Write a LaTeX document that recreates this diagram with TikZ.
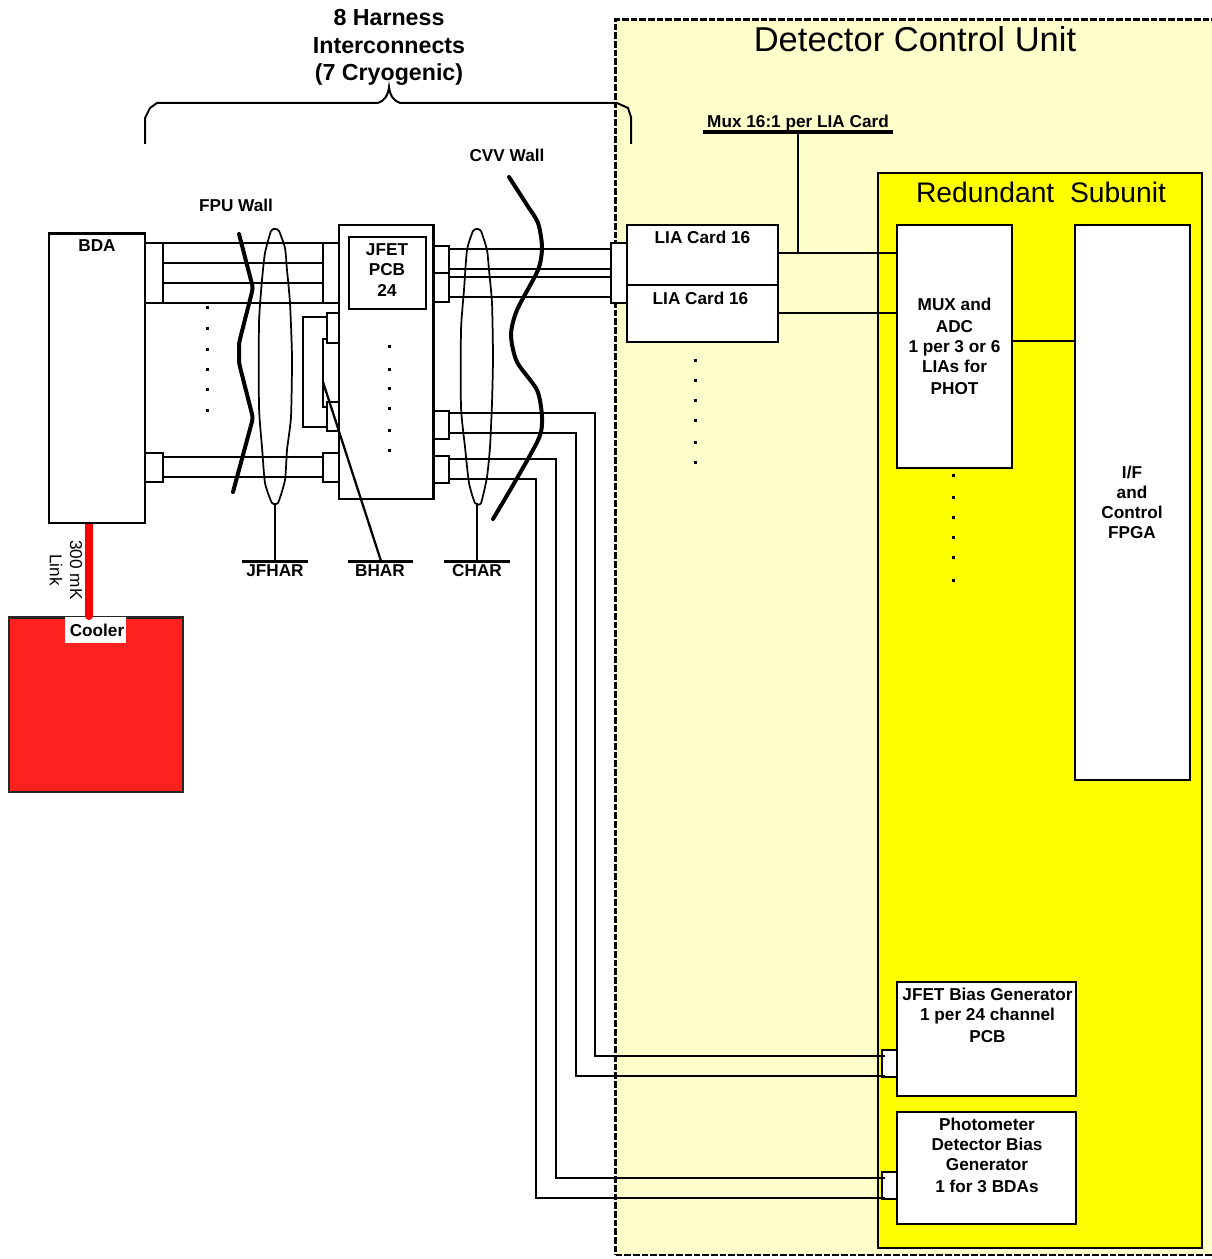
\documentclass[tikz,border=0pt]{standalone}
\usepackage{fontspec}
\setmainfont{Liberation Sans}
\definecolor{dcufill}{HTML}{FFFFCC}
\definecolor{subfill}{HTML}{FFFF00}
\definecolor{coolred}{HTML}{FF2020}
\definecolor{linkred}{HTML}{FF0000}
\tikzset{
  box/.style={draw=black,line width=1.6pt,fill=white,inner sep=0pt,outer sep=0pt},
  wire/.style={draw=black,line width=1.5pt},
  heavy/.style={draw=black,line width=2.6pt},
  wall/.style={draw=black,line width=3pt,line join=round,line cap=round},
  harness/.style={draw=black,line width=1.3pt,smooth cycle,tension=0.35},
  lab/.style={font=\fontsize{12.9}{15}\selectfont\bfseries,align=center,inner sep=0pt,outer sep=0pt},
  plainlab/.style={font=\fontsize{12.9}{15}\selectfont,align=center,inner sep=0pt,outer sep=0pt},
  biglab/.style={font=\fontsize{17.4}{20.7}\selectfont\bfseries,align=center,inner sep=0pt},
  tdot/.style={fill=black}
}
\newcommand\bx[6]{%
  \pgfmathsetmacro\bxw{(#4-#2)*0.75}\pgfmathsetmacro\bxh{(#5-#3)*0.75}%
  \node[box,minimum width=\bxw pt,minimum height=\bxh pt,#6] (#1) at ({(#2+#4)/2},{(#3+#5)/2}) {};}
\newcommand\dotcol[7]{\foreach \dy in {#2,#3,#4,#5,#6,#7}{\fill[tdot] (#1-1.5,\dy-1.5) rectangle (#1+1.5,\dy+1.5);}}
\begin{document}
\begin{tikzpicture}[x=0.75pt,y=-0.75pt]
\useasboundingbox (0,0) rectangle (1212,1259);
% enclosures
\bx{dcu}{615.5}{19.5}{1222}{1255}{fill=dcufill,dash pattern=on 5pt off 1.5pt,line width=1.55pt}
\bx{sub}{878}{173}{1202}{1248}{fill=subfill,line width=1.6pt}
\node[font=\fontsize{25.9}{28}\selectfont,inner sep=0pt] (dcutitle) at (915,39.5) {Detector Control Unit};
\node[font=\fontsize{21.2}{24}\selectfont,inner sep=0pt] (subtitle) at (1041,192) {Redundant\ \ Subunit};
% brace
\node[biglab] (harnesslab) at (389,47.5) {8 Harness\\Interconnects\\(7 Cryogenic)};
\coordinate (braceL) at (145,144);
\coordinate (braceR) at (631,144);
\draw[wire] (braceL) -- (145,118) -- (150,108) -- (157,103) -- (378,103) .. controls (384,101) and (388,96) .. (389,87) .. controls (390,96) and (394,101) .. (400,103) -- (617,103) -- (628,108) -- (631,117) -- (braceR);
% cooler and link
\bx{cooler}{9}{617.5}{183}{792}{fill=coolred,draw=black!85,line width=1.8pt}
\node[fill=white,minimum width=45.75pt,minimum height=19.5pt,inner sep=0pt] (coolbg) at (95.5,630) {};
\node[lab] (coollab) at (97,630) {Cooler};
\coordinate (linktop) at (89,525);
\coordinate (linkbot) at (89,616);
\draw[line width=6pt,draw=linkred,line cap=round] (linktop) -- (linkbot);
\node[plainlab,rotate=-90] (l300) at (76,570) {300\ mK};
\node[plainlab,rotate=-90] (llink) at (56,570) {Link};
% main boxes
\bx{bda}{49}{233.5}{145}{523}{}
\bx{pcb}{339}{225}{433.5}{499}{}
\bx{pcbin}{349}{237}{426}{309}{}
\bx{lia1}{627}{225}{778}{285}{}
\bx{lia2}{627}{285}{778}{342}{}
\bx{mux}{897}{225}{1012}{468}{}
\bx{fpga}{1075}{225}{1190}{780}{}
\bx{jbg}{897}{982}{1076}{1096}{}
\bx{pdb}{897}{1112}{1076}{1224}{}
% connectors blocks
\bx{cL1}{145}{243}{163}{303}{}
\bx{cR1}{323}{243}{339}{303}{}
\bx{cL2}{145}{453}{163}{482}{}
\bx{cR2}{323}{453}{339}{482}{}
\bx{sm1}{327}{313}{339}{343}{}
\bx{sm2}{327}{402}{339}{431}{}
\bx{p1}{433.5}{246}{449}{273}{}
\bx{p2}{433.5}{273}{449}{302}{}
\bx{p3}{433.5}{411}{449}{439}{}
\bx{p4}{433.5}{456}{449}{483}{}
\bx{liac}{611}{243}{627}{303}{}
\bx{jc}{882}{1050}{897}{1077}{}
\bx{pc}{882}{1172}{897}{1199}{}
% harness lines BDA to PCB
\draw[wire] (cL1.east |- 0,263) -- (cR1.west |- 0,263);
\draw[wire] (cL1.east |- 0,283) -- (cR1.west |- 0,283);
\draw[wire] (cL1.east |- 0,243) -- (cR1.west |- 0,243);
\draw[wire] (cL1.east |- 0,303) -- (cR1.west |- 0,303);
\draw[wire] (cL2.east |- 0,457) -- (cR2.west |- 0,457);
\draw[wire] (cL2.east |- 0,477) -- (cR2.west |- 0,477);
% loop
\draw[wire] (sm1.west |- 0,317) -- (303,317) -- (303,427) -- (sm2.west |- 0,427);
\draw[wire] (sm1.west |- 0,339) -- (323,339) -- (323,407) -- (sm2.west |- 0,407);
% PCB to LIA
\draw[wire] (p1.east |- 0,249) -- (liac.west |- 0,249);
\draw[wire] (p1.east |- 0,269) -- (liac.west |- 0,269);
\draw[wire] (p2.east |- 0,277) -- (liac.west |- 0,277);
\draw[wire] (p2.east |- 0,297) -- (liac.west |- 0,297);
% PCB to bias generators
\draw[wire] (p3.east |- 0,413) -- (595,413) -- (595,1055.5) -- (jc.west |- 0,1055.5) -- ++(3,0);
\draw[wire] (p3.east |- 0,433) -- (576,433) -- (576,1075.5) -- (jc.west |- 0,1075.5) -- ++(3,0);
\draw[wire] (p4.east |- 0,459) -- (556,459) -- (556,1177.5) -- (pc.west |- 0,1177.5) -- ++(3,0);
\draw[wire] (p4.east |- 0,479) -- (536,479) -- (536,1197.5) -- (pc.west |- 0,1197.5) -- ++(3,0);
% LIA to MUX
\draw[wire] (lia1.east |- 0,253) -- (mux.west |- 0,253);
\draw[wire] (lia2.east |- 0,313) -- (mux.west |- 0,313);
\draw[wire] (mux.east |- 0,341) -- (fpga.west |- 0,341);
% mux label
\node[lab] (muxlab) at (798,123) {Mux 16:1 per LIA Card};
\coordinate (muxbarL) at (703,132);
\coordinate (muxbarR) at (893,132);
\coordinate (muxfoot) at (798,253);
\draw[heavy] (muxbarL) -- (muxbarR);
\draw[wire,line width=2.1pt] (798,132) -- (muxfoot);
% harness ellipses
\draw[harness] plot coordinates {(275,229) (279,231) (285,248) (287,270) (290,303) (292,357) (291,417) (287,450) (285,480) (278,503) (272,503) (265,483) (262,447) (259,407) (259,323) (262,280) (265,253) (271,231)};
\draw[harness] plot coordinates {(477,229) (481,231) (487,250) (489,270) (492,303) (493,357) (492,403) (490,447) (487,477) (481,503) (475,503) (469,483) (465,447) (461,407) (461,330) (464,290) (467,250) (473,231)};
% tags
\coordinate (jfs) at (275,503);
\coordinate (jfb) at (275,561);
\coordinate (cs) at (477,503);
\coordinate (cb) at (477,561);
\coordinate (bs) at (323,382);
\coordinate (bb) at (381,561);
\draw[wire,line width=1.7pt] (jfs) -- (jfb);
\draw[wire,line width=1.7pt] (cs) -- (cb);
\draw[wire,line width=1.7pt] (bs) -- (bb);
\draw[heavy,line width=2.2pt] (242,561.5) -- (308,561.5);
\draw[heavy,line width=2.2pt] (348,561.5) -- (413,561.5);
\draw[heavy,line width=2.2pt] (444,561.5) -- (510,561.5);
\node[lab] (jfhar) at (275,570.5) {JFHAR};
\node[lab] (bhar) at (380,570.5) {BHAR};
\node[lab] (char) at (477,570.5) {CHAR};
% walls
\draw[wall,rounded corners=2.5pt] (239,234) -- (253,288) -- (239,343) -- (239,363) -- (253,418) -- (233,492);
\draw[wall,smooth,tension=0.45] plot coordinates {(509,177) (527,205) (538,223) (542,247) (538,270) (517,310) (511,335) (517,362) (537,390) (542,417) (539,438) (516,480) (493,519)};
\node[lab] (fpulab) at (236,205) {FPU Wall};
\node[lab] (cvvlab) at (507,155) {CVV Wall};
% labels
\node[lab] (bdalab) at (97,245.5) {BDA};
\node[lab] (pcblab) at (387,270.5) {JFET\\PCB\\[0.7pt]24};
\node[lab] (l1) at (702.5,237) {LIA Card 16};
\node[lab] (l2) at (700.5,298) {LIA Card 16};
\node[lab] (muxtxt) at (954.5,346.5) {MUX and\\[1.5pt]ADC\\1 per 3 or 6\\LIAs for\\[1.5pt]PHOT};
\node[lab] (fpgatxt) at (1132,502) {I/F\\and\\Control\\FPGA};
\node[lab] (jbgtxt) at (987.5,1015) {JFET Bias Generator\\1 per 24 channel\\[1.5pt]PCB};
\node[lab] (pdbtxt) at (987,1155.5) {Photometer\\Detector Bias\\Generator\\[1.5pt]1 for 3 BDAs};
% dots
\dotcol{207}{307}{328}{349}{369}{389}{410}
\dotcol{389}{346}{369}{388}{408}{430}{450}
\dotcol{695.5}{360}{380}{400}{420}{442}{462}
\dotcol{953.5}{475}{497}{517}{537}{557}{580}
\end{tikzpicture}
\end{document}
